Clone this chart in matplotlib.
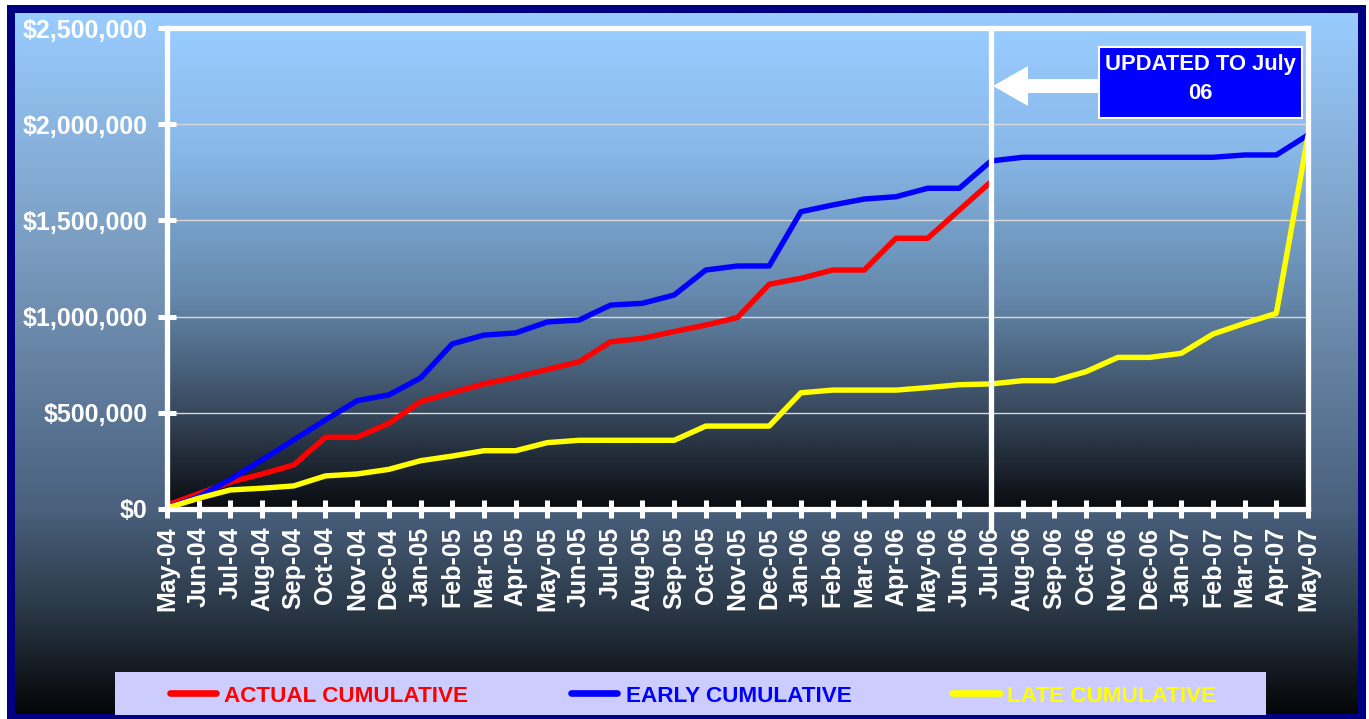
import numpy as np
import matplotlib
matplotlib.use("Agg")
import matplotlib.pyplot as plt
from matplotlib.patches import Rectangle, Polygon
from matplotlib.lines import Line2D
from matplotlib.colors import LinearSegmentedColormap
from matplotlib import font_manager as fm

# ---------------- data ----------------
months = ["May-04", "Jun-04", "Jul-04", "Aug-04", "Sep-04", "Oct-04", "Nov-04", "Dec-04",
          "Jan-05", "Feb-05", "Mar-05", "Apr-05", "May-05", "Jun-05", "Jul-05", "Aug-05",
          "Sep-05", "Oct-05", "Nov-05", "Dec-05", "Jan-06", "Feb-06", "Mar-06", "Apr-06",
          "May-06", "Jun-06", "Jul-06", "Aug-06", "Sep-06", "Oct-06", "Nov-06", "Dec-06",
          "Jan-07", "Feb-07", "Mar-07", "Apr-07", "May-07"]

actual_cumulative = [20000, 80000, 140000, 182000, 229000, 373000, 373000, 445000,
                     558000, 605000, 650000, 685000, 725000, 765000, 869000, 887000,
                     922000, 956000, 995000, 1168000, 1199000, 1242000, 1242000, 1407000,
                     1407000, 1554000, 1701000]

early_cumulative = [5000, 64000, 154000, 255000, 359000, 463000, 563000, 593000,
                    681000, 858000, 904000, 915000, 972000, 982000, 1060000, 1069000,
                    1112000, 1242000, 1263000, 1263000, 1545000, 1580000, 1611000, 1623000,
                    1667000, 1667000, 1809000, 1828000, 1828000, 1828000, 1828000, 1828000,
                    1828000, 1828000, 1840000, 1840000, 1944000]

late_cumulative = [5000, 56000, 99000, 108000, 120000, 172000, 182000, 206000,
                   251000, 275000, 303000, 303000, 345000, 357000, 357000, 357000,
                   357000, 431000, 431000, 431000, 604000, 618000, 618000, 618000,
                   631000, 646000, 650000, 667000, 667000, 714000, 788000, 788000,
                   809000, 909000, 965000, 1017000, 1940000]

series_labels = ["ACTUAL CUMULATIVE", "EARLY CUMULATIVE", "LATE CUMULATIVE"]
y_ticks = [0, 500000, 1000000, 1500000, 2000000, 2500000]
update_month = "Jul-06"
update_text = "UPDATED TO July\n06"

# ---------------- fonts ----------------
names = {f.name for f in fm.fontManager.ttflist}
BASE = "Liberation Sans" if "Liberation Sans" in names else "DejaVu Sans"
if "Liberation Sans Narrow" in names:
    LEG_FONT, LEG_SIZE = "Liberation Sans Narrow", 17.5
else:
    LEG_FONT, LEG_SIZE = BASE, 16.2
plt.rcParams["font.family"] = [BASE, "DejaVu Sans"]

W, H = 1369, 719
fig = plt.figure(figsize=(W / 100, H / 100), dpi=100)
fig.patch.set_facecolor("white")


def fx(px):
    return px / W


def fy(py):
    return 1 - py / H


def gradient(stops, n=400):
    pos = [s[0] for s in stops]
    cols = [tuple(c / 255 for c in s[1]) for s in stops]
    cmap = LinearSegmentedColormap.from_list("g", list(zip(pos, cols)))
    return cmap(np.linspace(0, 1, n))[:, None, :3]


# navy frame
fig.patches.append(Rectangle((fx(7), fy(719)), fx(1366) - fx(7), fy(5) - fy(719),
                             transform=fig.transFigure, facecolor="#000080",
                             edgecolor="none", zorder=0))

# figure background gradient
bg = fig.add_axes([fx(15), fy(714), fx(1358) - fx(15), fy(13) - fy(714)])
bg.set_zorder(0.5)
bg.axis("off")
bg.imshow(gradient([(0.0, (153, 204, 255)), (0.338, (122, 156, 192)),
                    (0.708, (74, 96, 125)), (0.837, (46, 61, 77)), (1.0, (5, 6, 8))]),
          aspect="auto", extent=[0, 1, 0, 1], interpolation="bilinear")

# main axes
L, R, T, B = 167, 1308, 28, 509
ax = fig.add_axes([fx(L), fy(B), fx(R) - fx(L), fy(T) - fy(B)])
ax.set_zorder(2)
ax.set_facecolor("none")
x = np.arange(len(months))
ax.set_xlim(0, len(months) - 1)
ax.set_ylim(0, 2500000)
ax.imshow(gradient([(0.0, (153, 204, 255)), (0.254, (136, 184, 232)),
                    (0.565, (100, 135, 170)), (0.8, (55, 72, 92)), (1.0, (10, 12, 16))]),
          aspect="auto", extent=[0, len(months) - 1, 0, 2500000],
          interpolation="bilinear", zorder=-1)

ax.set_axisbelow(True)
ax.yaxis.grid(True, color="#d8d8d8", lw=1.0)

line_kw = dict(lw=3.9, solid_joinstyle="round", solid_capstyle="round")
ax.plot(x[:len(actual_cumulative)], actual_cumulative, color="#FF0000", zorder=3, **line_kw)
ax.plot(x, early_cumulative, color="#0000FF", zorder=4, **line_kw)
ax.plot(x, late_cumulative, color="#FFFF00", zorder=5, **line_kw)

ui = months.index(update_month)
ax.axvline(ui, ymin=-0.044, ymax=1, clip_on=False, color="white", lw=3.8, zorder=6,
           solid_capstyle="round")

for s in ax.spines.values():
    s.set_color("white")
    s.set_linewidth(3.8)
    s.set_zorder(7)

ax.set_xticks(x)
ax.set_xticklabels(months, rotation=90, fontweight="bold")
ax.set_yticks(y_ticks)
ax.set_yticklabels(["${:,.0f}".format(v) for v in y_ticks], fontweight="bold")
ax.tick_params(axis="both", direction="inout", length=13.5, width=3.6, color="white",
               labelcolor="white", labelsize=18)
ax.tick_params(axis="y", pad=7)
ax.tick_params(axis="x", pad=6)

# update annotation: arrow + box
ay = 86
arrow = Polygon([(fx(993), fy(ay)), (fx(1028), fy(ay - 20)), (fx(1028), fy(ay - 7)),
                 (fx(1100), fy(ay - 7)), (fx(1100), fy(ay + 7)), (fx(1028), fy(ay + 7)),
                 (fx(1028), fy(ay + 20))], closed=True, transform=fig.transFigure,
                facecolor="white", edgecolor="none", zorder=10)
fig.patches.append(arrow)
fig.patches.append(Rectangle((fx(1099), fy(118)), fx(1302) - fx(1099), fy(47) - fy(118),
                             transform=fig.transFigure, facecolor="#0000FF",
                             edgecolor="white", lw=1.5, zorder=10))
fig.text(fx(1200.5), fy(79), update_text, ha="center", va="center", color="white",
         fontsize=15.8, fontweight="bold", linespacing=1.55, zorder=11)

# legend
fig.patches.append(Rectangle((fx(115), fy(715)), fx(1266) - fx(115), fy(672) - fy(715),
                             transform=fig.transFigure, facecolor="#CCCCFF",
                             edgecolor="none", zorder=10))
leg_colors = ["#FF0000", "#0000FF", "#FFFF00"]
leg_lines = [(170, 216), (571, 617), (952, 1000)]
leg_text_x = [224, 626, 1007]
for lab, c, (x0, x1), tx in zip(series_labels, leg_colors, leg_lines, leg_text_x):
    fig.lines.append(Line2D([fx(x0), fx(x1)], [fy(693), fy(693)], transform=fig.transFigure,
                            color=c, lw=4.8, solid_capstyle="round", zorder=11))
    fig.text(fx(tx), fy(702), lab, ha="left", va="baseline", color=c,
             family=[LEG_FONT, "DejaVu Sans"], fontsize=LEG_SIZE, fontweight="bold",
             zorder=11)

fig.savefig("out.png", dpi=100, facecolor=fig.get_facecolor())
